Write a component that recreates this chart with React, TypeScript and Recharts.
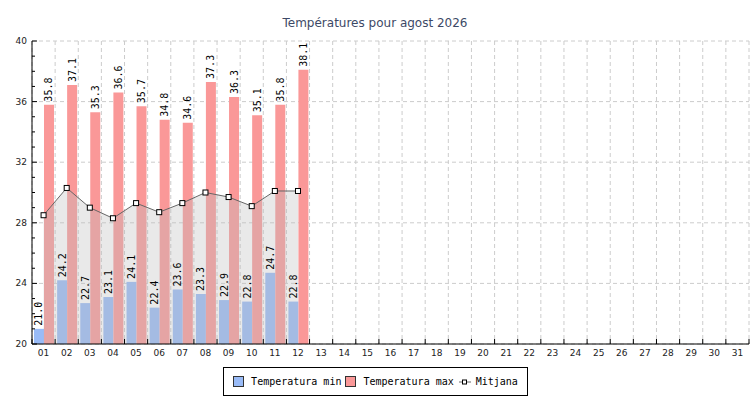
import React from 'react';
import { ComposedChart, Bar, Area, XAxis, YAxis, CartesianGrid, LabelList, Legend } from 'recharts';

const days = ['01','02','03','04','05','06','07','08','09','10','11','12','13','14','15','16','17','18','19','20','21','22','23','24','25','26','27','28','29','30','31'];
const minTemps = [21.0, 24.2, 22.7, 23.1, 24.1, 22.4, 23.6, 23.3, 22.9, 22.8, 24.7, 22.8];
const maxTemps = [35.8, 37.1, 35.3, 36.6, 35.7, 34.8, 34.6, 37.3, 36.3, 35.1, 35.8, 38.1];
const avgTemps = [28.5, 30.3, 29.0, 28.3, 29.3, 28.7, 29.3, 30.0, 29.7, 29.1, 30.1, 30.1];
const yTicks = [20,21,22,23,24,25,26,27,28,29,30,31,32,33,34,35,36,37,38,39,40];
const yMajor = [20, 24, 28, 32, 36, 40];
const Y_MIN = 20;
const Y_MAX = 40;

const W = 750;
const H = 400;
const MARGIN = { top: 41, right: 1, bottom: 36, left: 0 };
const Y_AXIS_W = 32;
const X_AXIS_H = 20;
const PLOT_W = W - MARGIN.right - MARGIN.left - Y_AXIS_W;
const BAND = PLOT_W / days.length;

const BLUE = '#99bbf7';
const RED = '#fa9898';

const data = days.map((d, i) => ({
  day: d,
  min: i < minTemps.length ? minTemps[i] : null,
  max: i < maxTemps.length ? maxTemps[i] : null,
  avg: i < avgTemps.length ? avgTemps[i] : null,
}));

const XTick = (props: any) => {
  const x = Number(props.x);
  const y = Number(props.y);
  const half = BAND / 2;
  const last = props.index === days.length - 1;
  return (
    <g>
      <line x1={x - half} x2={x - half} y1={y} y2={y - 5} stroke="#000" strokeWidth={1} />
      {last && <line x1={x + half} x2={x + half} y1={y} y2={y - 5} stroke="#000" strokeWidth={1} />}
      <text x={x} y={y + 12} textAnchor="middle" fontFamily="DejaVu Sans" fontSize={9} fill="#222">
        {props.payload.value}
      </text>
    </g>
  );
};

const YTick = (props: any) => {
  const x = Number(props.x);
  const y = Number(props.y);
  const v = props.payload.value;
  const major = yMajor.includes(v);
  return (
    <g>
      <line x1={x} x2={x + (major ? 5 : 3)} y1={y} y2={y} stroke="#000" strokeWidth={1} />
      {major && (
        <text x={x - 5} y={y} textAnchor="end" dominantBaseline="central" fontFamily="DejaVu Sans" fontSize={9} fill="#222">
          {v}
        </text>
      )}
    </g>
  );
};

const VLabel = (props: any) => {
  const { value } = props;
  if (value == null) return null;
  const cx = Number(props.x) + Number(props.width) / 2;
  const ty = Number(props.y) - 3;
  return (
    <text
      x={cx}
      y={ty}
      transform={`rotate(-90 ${cx} ${ty})`}
      textAnchor="start"
      dominantBaseline="central"
      fontFamily="DejaVu Sans Mono"
      fontSize={10}
      fill="#000"
    >
      {Number(value).toFixed(1)}
    </text>
  );
};

const SquareDot = (props: any) => {
  const { cx, cy, index } = props;
  if (cx == null || cy == null) return <g key={`d${index}`} />;
  return <rect key={`d${index}`} x={cx - 2.5} y={cy - 2.5} width={5} height={5} fill="#fff" stroke="#000" strokeWidth={1} />;
};

const LegendBox = () => (
  <div
    style={{
      border: '1px solid #000',
      background: '#fff',
      width: '100%',
      height: '100%',
      boxSizing: 'border-box',
      display: 'flex',
      alignItems: 'center',
      justifyContent: 'center',
      fontFamily: 'DejaVu Sans Mono',
      fontSize: 10,
      color: '#000',
      whiteSpace: 'nowrap',
    }}
  >
    <span style={{ display: 'inline-block', width: 9, height: 9, background: BLUE, border: '1px solid #333', marginRight: 7 }} />
    <span style={{ marginRight: 4 }}>Temperatura min</span>
    <span style={{ display: 'inline-block', width: 9, height: 9, background: RED, border: '1px solid #333', marginRight: 7 }} />
    <span style={{ marginRight: 5 }}>Temperatura max</span>
    <svg width={12} height={10} style={{ marginRight: 5 }}>
      <line x1={0} x2={12} y1={5} y2={5} stroke="#666" strokeWidth={1} />
      <rect x={3.5} y={3} width={4} height={4} fill="#fff" stroke="#000" strokeWidth={1} />
    </svg>
    <span>Mitjana</span>
  </div>
);

export default function App() {
  return (
    <div style={{ position: 'fixed', left: 0, top: 0, width: W, height: H, background: '#fff' }}>
      <div
        style={{
          position: 'absolute',
          left: 0,
          top: 16,
          width: W,
          textAlign: 'center',
          fontFamily: 'DejaVu Sans',
          fontSize: 12,
          color: '#3d4966',
        }}
      >
        Températures pour agost 2026
      </div>
      <ComposedChart width={W} height={H} data={data} margin={MARGIN} barGap={0} barSize={10}>
        <CartesianGrid
          stroke="#cccccc"
          strokeDasharray="4 3"
          verticalCoordinatesGenerator={({ offset, width }: any) => {
            const left = offset.left;
            const w = offset.width ?? width - offset.left - offset.right;
            return days.map((_, i) => left + (i * w) / days.length).concat(left + w);
          }}
          horizontalCoordinatesGenerator={({ offset, height }: any) => {
            const top = offset.top;
            const h = offset.height ?? height - offset.top - offset.bottom;
            return yMajor.map((v) => top + h * (1 - (v - Y_MIN) / (Y_MAX - Y_MIN)));
          }}
        />
        <XAxis
          dataKey="day"
          interval={0}
          height={X_AXIS_H}
          tickLine={false}
          tickSize={0}
          tickMargin={0}
          tick={<XTick />}
          axisLine={{ stroke: '#000' }}
        />
        <YAxis
          type="number"
          domain={[Y_MIN, Y_MAX]}
          ticks={yTicks}
          interval={0}
          width={Y_AXIS_W}
          tickLine={false}
          tickSize={0}
          tickMargin={0}
          tick={<YTick />}
          axisLine={{ stroke: '#000' }}
          allowDataOverflow
        />
        <Bar dataKey="min" fill={BLUE} isAnimationActive={false}>
          <LabelList dataKey="min" content={<VLabel />} />
        </Bar>
        <Bar dataKey="max" fill={RED} isAnimationActive={false}>
          <LabelList dataKey="max" content={<VLabel />} />
        </Bar>
        <Area
          type="linear"
          dataKey="avg"
          stroke="#666"
          strokeWidth={1}
          fill="#bbbbbb"
          fillOpacity={0.33}
          dot={SquareDot}
          activeDot={false}
          isAnimationActive={false}
          {...({ zIndex: 350 } as any)}
        />
        <Legend
          layout="horizontal"
          verticalAlign="middle"
          align="center"
          wrapperStyle={{ position: 'absolute', left: 223, top: 367, width: 305, height: 29 }}
          content={() => <LegendBox />}
        />
      </ComposedChart>
    </div>
  );
}
